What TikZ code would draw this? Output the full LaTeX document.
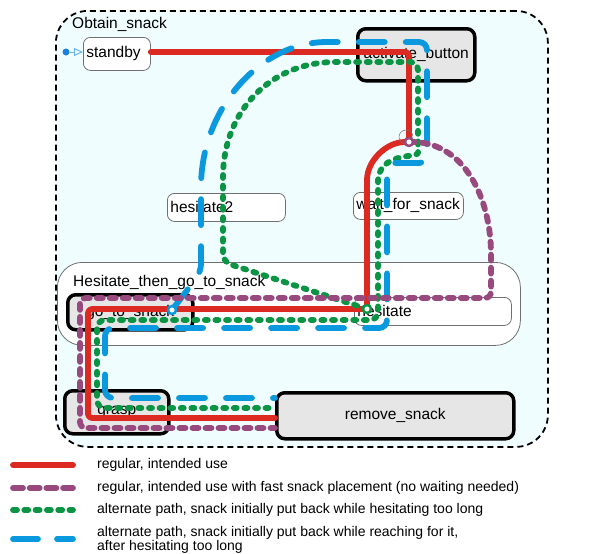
\documentclass[tikz,border=0pt]{standalone}
\usepackage{fontspec}
\setmainfont{Liberation Sans}
\usetikzlibrary{arrows.meta}
\definecolor{cred}{HTML}{DC2A22}
\definecolor{cpur}{HTML}{984A7F}
\definecolor{cgrn}{HTML}{0A9443}
\definecolor{cblu}{HTML}{0A98DE}
\definecolor{bgc}{HTML}{F0FDFF}
\definecolor{stfill}{HTML}{E6E6E6}
\definecolor{thinb}{HTML}{707070}
\definecolor{cinit}{HTML}{1E7FE0}
\definecolor{cinitl}{HTML}{6EB6F0}
\tikzset{
  lbl/.style={font=\fontsize{15.5}{18}\selectfont, inner sep=0pt},
  legtxt/.style={font=\fontsize{14}{14}\selectfont, inner sep=0pt, anchor=west, align=left},
  thickst/.style={draw=black, line width=3.5pt, fill=stfill, rounded corners=8pt, inner sep=0pt, font=\fontsize{15.5}{18}\selectfont, anchor=north west},
  thinst/.style={draw=thinb, line width=0.8pt, fill=white, rounded corners=7pt, inner xsep=3pt, inner ysep=0pt, align=left, font=\fontsize{15.5}{18}\selectfont, anchor=north west},
  pred/.style={draw=cred, line width=5.8pt, line cap=round, rounded corners=4pt},
  ppur/.style={draw=cpur, line width=5.8pt, line cap=round, dash pattern=on 6pt off 7pt, rounded corners=6pt},
  pgrn/.style={draw=cgrn, line width=5.8pt, line cap=round, dash pattern=on 3pt off 7.6pt, rounded corners=8pt},
  pblu/.style={draw=cblu, line width=5.8pt, line cap=round, dash pattern=on 26pt off 21pt, rounded corners=8pt},
  ring/.style={circle, fill=white, line width=2.5pt, inner sep=0pt, minimum size=8pt},
}
\begin{document}
\begin{tikzpicture}[x=1pt,y=-1pt, line join=round]
\useasboundingbox (0,0) rectangle (590,554);
% containers
\node[draw=black, line width=1.8pt, dash pattern=on 6pt off 4pt, fill=bgc, rounded corners=32pt,
      minimum width=492pt, minimum height=436pt, anchor=north west, inner sep=0pt] (obtain) at (55,10) {};
\node[lbl, anchor=west] (obtainlbl) at (72,24) {Obtain\_snack};
\node[draw=thinb, line width=0.8pt, fill=white, rounded corners=25pt,
      minimum width=463pt, minimum height=83pt, anchor=north west, inner sep=0pt] (hes) at (57,262) {};
\node[lbl, anchor=west] (heslbl) at (73,282) {Hesitate\_then\_go\_to\_snack};
% states
\node[thinst, text width=61pt, minimum height=33pt] (standby) at (83,37) {standby};
\node[thickst, minimum width=117pt, minimum height=52pt] (act) at (356,27) {activate\_button};
\node[thinst, text width=112pt, minimum height=28pt] (hes2) at (167,193) {hesitate2};
\node[thinst, text width=104pt, minimum height=27pt] (wait) at (353,192) {wait\_for\_snack};
\node[thickst, minimum width=125pt, minimum height=35pt] (goto) at (66,293) {go\_to\_snack};
\node[thinst, text width=151pt, minimum height=28pt] (hesit) at (354,297) {hesitate};
\node[thickst, minimum width=104pt, minimum height=43pt] (grasp) at (63,389) {grasp};
\node[thickst, minimum width=237pt, minimum height=46pt] (rem) at (275,391) {remove\_snack};
% initial
\node[circle, fill=cinit, inner sep=0pt, minimum size=7pt] (init) at (66,52) {};
\draw[-{Triangle[open,length=9pt,width=8pt]}, draw=cinitl, line width=1pt] (init) -- (standby.west |- init);
% paths
\draw[pred] (standby.east |- 0,52) -- (409,52) -- (409,142)
  .. controls (386,142) and (367,161) .. (367,184) -- (367,309) -- (88,309) -- (88,418) -- (rem.west |- 0,418);
\draw[pgrn] (367,309) -- (223,262) -- (223,185) .. controls (223,111) and (271,62) .. (343,62)
  -- (418,62) -- (418,145) .. controls (418,158) and (378,152) .. (378,190)
  -- (378,320) -- (97,320) -- (97,408) -- (rem.west |- 0,408);
\draw[pblu] (172,310) -- (201,272) -- (201,195) .. controls (201,109) and (260,42) .. (335,42)
  -- (427,42) -- (427,163) -- (400,163) .. controls (390,163) and (387,170) .. (387,188)
  -- (387,328) -- (105,328) -- (105,398) -- (rem.west |- 0,398);
\draw[ppur] (409,142) .. controls (465,140) and (491,200) .. (491,260) -- (491,298)
  -- (80,298) -- (80,428) -- (rem.west |- 0,428);
% junctions
\draw[thinb, line width=0.5pt] (406,137) circle[radius=7pt];
\node[ring, draw=cpur] (jw) at (409,142) {};
\node[ring, draw=cgrn] (jh) at (367,309) {};
\node[ring, draw=cblu] (jg) at (172,310) {};
% legend
\coordinate (l1a) at (13,465); \coordinate (l1b) at (73,465);
\coordinate (l2a) at (13,488); \coordinate (l2b) at (73,488);
\coordinate (l3a) at (13,510); \coordinate (l3b) at (73,510);
\coordinate (l4a) at (13,539); \coordinate (l4b) at (73,539);
\draw[draw=cred, line width=5.8pt, line cap=round] (l1a) -- (l1b);
\draw[draw=cpur, line width=5.8pt, line cap=round, dash pattern=on 10pt off 6.7pt] (l2a) -- (l2b);
\draw[draw=cgrn, line width=5.8pt, line cap=round, dash pattern=on 4pt off 7.3pt] (l3a) -- (l3b);
\draw[draw=cblu, line width=5.8pt, line cap=round, dash pattern=on 25pt off 19pt] (l4a) -- (l4b);
\node[legtxt] (t1) at (97,465) {regular, intended use};
\node[legtxt] (t2) at (97,488) {regular, intended use with fast snack placement (no waiting needed)};
\node[legtxt] (t3) at (97,510) {alternate path, snack initially put back while hesitating too long};
\node[legtxt] (t4) at (97,540) {alternate path, snack initially put back while reaching for it,\\after hesitating too long};
\end{tikzpicture}
\end{document}
